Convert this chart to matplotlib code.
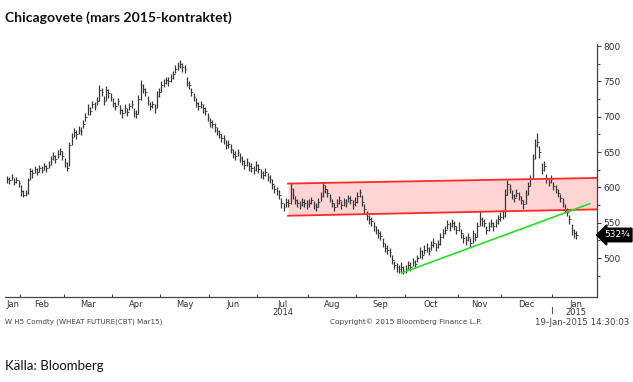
import numpy as np
import pandas as pd
import matplotlib
matplotlib.use("Agg")
import matplotlib.pyplot as plt
import matplotlib.transforms as mtransforms

# daily bars, W H5 (Mar 2015 wheat), 24-Jan-2014 .. 16-Jan-2015
closes = [
    612, 610, 615, 608, 611, 606,
    595, 590, 592, 610, 624, 620, 626, 622, 628, 625, 630, 627, 632, 640, 645, 640, 648, 652, 645,
    635, 628, 660, 672, 678, 675, 682, 680, 690, 700, 712, 708, 718, 715, 722, 738, 735, 722, 738, 733, 728,
    720, 715, 722, 710, 705, 712, 707, 715, 718, 706, 704, 725, 745, 740, 735, 722, 715, 718, 712, 730, 735,
    745, 748, 752, 750, 755, 760, 768, 772, 775, 770, 768, 748, 745, 735, 728, 720, 715, 718, 712, 708, 700,
    692, 690, 685, 680, 676, 670, 668, 660, 662, 655, 648, 645, 650, 642, 638, 632, 636, 630, 628, 625, 632,
    626, 620, 618, 622, 615, 612, 605, 598, 595, 590, 578, 572, 580, 578, 598, 590, 582, 578, 575, 580, 578, 576,
    578, 582, 575, 572, 580, 588, 603, 598, 592, 585, 578, 572, 578, 582, 575, 580, 578, 585, 582, 576, 580,
    588, 594, 580, 570, 560, 555, 552, 545, 540, 535, 532, 522, 515, 512, 508, 498, 490, 487, 485, 488, 482,
    485, 490, 488, 495, 492, 500, 510, 505, 512, 515, 510, 518, 522, 516, 520, 530, 535, 540, 548, 545, 550, 546, 540,
    545, 535, 528, 525, 530, 522, 535, 530, 545, 555, 552, 550, 540, 545, 550, 545, 550, 555, 558,
    560, 590, 605, 598, 590, 585, 592, 588, 582, 576, 590, 602, 612, 640, 660, 665, 650, 625, 630, 612, 608, 612,
    602, 598, 592, 585, 578, 570, 565, 555, 540, 535, 532.75,
]
highs = [
    616, 615, 619, 614, 615, 611,
    604, 596, 597, 613, 628, 626, 630, 627, 632, 630, 635, 632, 637, 645, 650, 646, 653, 656, 651,
    642, 636, 665, 677, 684, 681, 687, 686, 695, 706, 718, 714, 723, 721, 728, 745, 741, 729, 743, 739, 734,
    727, 721, 727, 717, 711, 718, 713, 720, 724, 713, 710, 731, 752, 747, 741, 729, 721, 723, 718, 736, 741,
    751, 753, 757, 756, 761, 765, 773, 777, 780, 776, 773, 756, 750, 741, 734, 726, 721, 723, 718, 714, 706,
    699, 696, 691, 686, 682, 676, 674, 667, 667, 661, 654, 651, 655, 649, 644, 639, 641, 636, 634, 631, 637,
    633, 626, 624, 627, 621, 618, 612, 604, 601, 596, 585, 578, 585, 584, 606, 599, 588, 584, 581, 585, 584, 582,
    583, 587, 581, 578, 585, 594, 608, 604, 598, 591, 584, 578, 583, 588, 581, 585, 583, 590, 588, 582, 586,
    593, 598, 590, 577, 566, 561, 558, 551, 546, 541, 538, 529, 521, 518, 514, 505, 496, 493, 490, 494, 489,
    490, 496, 494, 500, 498, 505, 516, 512, 518, 521, 516, 524, 528, 522, 526, 536, 541, 546, 554, 551, 556, 552, 546,
    551, 541, 534, 531, 536, 528, 540, 536, 551, 566, 558, 556, 546, 551, 556, 551, 556, 561, 565,
    568, 598, 610, 605, 596, 591, 598, 594, 588, 582, 597, 608, 618, 648, 668, 677, 658, 634, 637, 619, 614, 618,
    608, 604, 598, 591, 585, 576, 571, 561, 548, 541, 538,
]
lows = [
    607, 605, 610, 603, 606, 600,
    588, 586, 588, 591, 610, 614, 620, 617, 622, 620, 625, 622, 627, 632, 639, 634, 642, 646, 639,
    629, 624, 630, 660, 672, 669, 676, 674, 684, 694, 702, 702, 712, 709, 716, 722, 729, 716, 722, 727, 722,
    714, 709, 716, 704, 699, 706, 701, 709, 712, 700, 698, 704, 724, 734, 729, 716, 709, 712, 706, 712, 728,
    735, 742, 746, 744, 749, 754, 762, 766, 769, 764, 762, 743, 739, 729, 722, 714, 709, 712, 706, 702, 694,
    686, 684, 679, 674, 670, 664, 662, 654, 656, 649, 642, 639, 644, 636, 632, 626, 630, 624, 622, 619, 624,
    620, 614, 612, 616, 609, 606, 598, 592, 589, 583, 571, 566, 572, 572, 576, 584, 576, 572, 569, 574, 572, 570,
    572, 576, 569, 566, 573, 581, 586, 592, 586, 579, 572, 566, 572, 576, 569, 574, 572, 579, 576, 570, 574,
    578, 587, 574, 563, 554, 549, 546, 539, 534, 529, 526, 516, 509, 506, 502, 492, 484, 481, 479, 481, 478,
    479, 484, 482, 489, 486, 494, 500, 499, 506, 509, 504, 512, 516, 510, 514, 518, 529, 534, 541, 539, 544, 540, 534,
    539, 529, 522, 519, 524, 516, 522, 524, 530, 545, 546, 544, 534, 539, 544, 539, 544, 549, 552,
    556, 558, 590, 592, 584, 579, 586, 582, 576, 570, 576, 590, 602, 612, 640, 657, 642, 619, 623, 606, 602, 606,
    596, 592, 586, 579, 572, 564, 559, 549, 533, 529, 527,
]

holidays = ["2014-02-17", "2014-04-18", "2014-05-26", "2014-07-04",
            "2014-09-01", "2014-11-27", "2014-12-25", "2015-01-01"]
days = pd.bdate_range("2014-01-24", "2015-01-16")
days = days[~days.isin(pd.to_datetime(holidays))]

# trend channel (red) and support line (green): (day index, price)
chan_x = [121.9, 255.9]
chan_top = [605.5, 613.5]
chan_bot = [560, 569]
green_x = [171.2, 252.8]
green_y = [479, 577]

last_label = "532\u00be"
month_names = ["Jan", "Feb", "Mar", "Apr", "May", "Jun", "Jul",
               "Aug", "Sep", "Oct", "Nov", "Dec", "Jan"]

assert len(closes) == len(highs) == len(lows) == len(days)
x = np.arange(len(days))
x_lo, x_hi = -0.9, 255.9

fig = plt.figure(figsize=(6.33, 3.82), dpi=100)
ax = fig.add_axes([0.0079, 0.2225, 0.935, 0.6623])

ax.vlines(x, lows, highs, color="#383838", lw=0.9)
ax.hlines(closes, x, x + 0.7, color="#383838", lw=0.6)

ax.fill_between(chan_x, chan_bot, chan_top, color="#ff0000", alpha=0.17, lw=0)
ax.plot(chan_x, chan_top, color="#ff2b2b", lw=1.3)
ax.plot(chan_x, chan_bot, color="#ff2b2b", lw=1.3)
ax.plot(green_x, green_y, color="#22e022", lw=1.2)

ax.set_xlim(x_lo, x_hi)
ax.set_ylim(445, 803)

for s in ["left", "top"]:
    ax.spines[s].set_visible(False)
for s in ["right", "bottom"]:
    ax.spines[s].set_color("#444444")
    ax.spines[s].set_linewidth(0.9)

ax.yaxis.tick_right()
ax.set_yticks(np.arange(500, 801, 50))
ax.set_yticks(np.arange(475, 801, 25), minor=True)
ax.tick_params(axis="y", which="major", direction="out", length=3, width=0.8,
               colors="#444444", labelsize=6.5, labelcolor="#333333", pad=1.5)
ax.tick_params(axis="y", which="minor", direction="out", length=2, width=0.7, colors="#444444")

# month boundaries
per = pd.Series(x, index=days).groupby(days.to_period("M"))
starts = [g.iloc[0] for _, g in per]
ends = [g.iloc[-1] for _, g in per]
ax.set_xticks([s - 0.5 for s in starts[1:]])
ax.set_xticklabels([])
ax.tick_params(axis="x", direction="in", length=2.5, width=0.8, colors="#444444")

trans = mtransforms.blended_transform_factory(ax.transData, ax.transAxes)
for i, name in enumerate(month_names):
    if i < len(month_names) - 1:
        xc = (max(starts[i] - 0.5, x_lo) + ends[i] + 0.5) / 2
    else:
        xc = starts[i] + 10
    ax.text(xc, -0.01, name, transform=trans, ha="center", va="top",
            fontsize=6, color="#333333")
ax.text((starts[6] + ends[6]) / 2, -0.042, "2014", transform=trans, ha="center",
        va="top", fontsize=6, color="#333333")
ax.text(starts[12] + 10, -0.042, "2015", transform=trans, ha="center",
        va="top", fontsize=6, color="#333333")
ax.plot([starts[12] - 0.5] * 2, [-0.04, -0.064], transform=trans, color="#555555",
        lw=0.8, clip_on=False)

# last price tag
ax.text(1.012, (532.75 - 445) / (803 - 445), last_label, transform=ax.transAxes,
        ha="left", va="center", fontsize=6.5, color="white",
        bbox=dict(boxstyle="larrow,pad=0.25", fc="black", ec="black"))

# footer
fig.text(0.008, 0.157, "W H5 Comdty (WHEAT FUTURE(CBT) Mar15)", fontsize=5.1, color="#444444", va="center")
fig.text(0.521, 0.157, "Copyright\u00a9 2015 Bloomberg Finance L.P.", fontsize=5.3, color="#444444", va="center")
fig.text(0.995, 0.157, "19-Jan-2015 14:30:03", fontsize=6.2, color="#444444", va="center", ha="right")

fig.text(0.008, 0.955, "Chicagovete (mars 2015-kontraktet)", fontsize=10.1, fontweight="bold",
         family=["Lato", "DejaVu Sans"], color="#111111", va="center")
fig.text(0.008, 0.042, "K\u00e4lla: Bloomberg", fontsize=9.5,
         family=["Lato", "DejaVu Sans"], color="#111111", va="center")

fig.savefig("out.png", dpi=100)
